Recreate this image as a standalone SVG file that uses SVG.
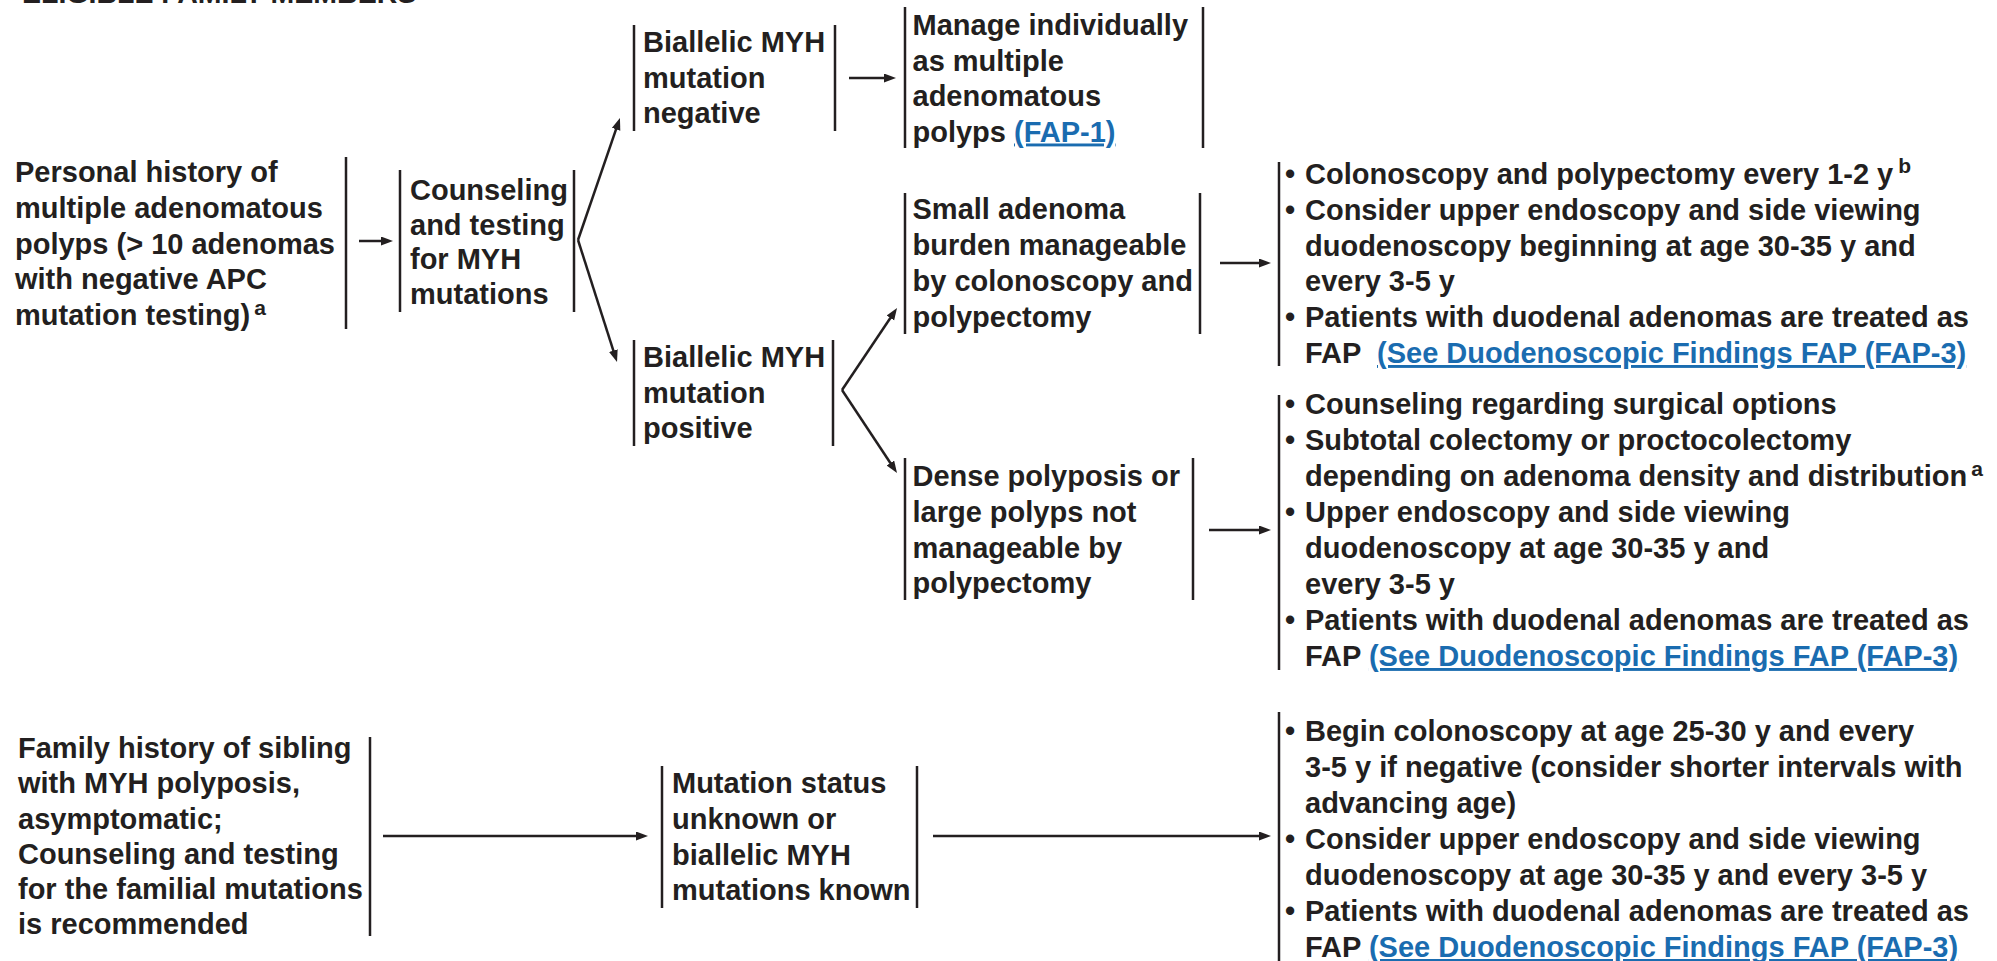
<svg xmlns="http://www.w3.org/2000/svg" width="1997" height="961" viewBox="0 0 1997 961">
<style>
.t{font-family:"Liberation Sans",Arial,Helvetica,sans-serif;font-weight:bold;font-size:29px;fill:#231f20}
.sup{font-size:21px}
.lk{fill:#1a6cb0;text-decoration:underline}
.bar{stroke:#231f20;stroke-width:2.5;fill:none}
.c{stroke:#231f20;stroke-width:2.5;fill:none;marker-end:url(#ah)}
</style>
<defs>
<marker id="ah" markerUnits="userSpaceOnUse" markerWidth="13" markerHeight="10" refX="6" refY="4.5" orient="auto">
<path d="M0,0 L12,4.5 L0,9 z" fill="#231f20"/>
</marker>
</defs>
<rect width="1997" height="961" fill="#ffffff"/>

<g id="title"><text class="t" x="22" y="3" style="font-size:28.5px">ELIGIBLE FAMILY MEMBERS</text></g>

<g id="n-personal">
<text class="t" x="15" y="182">Personal history of</text>
<text class="t" x="15" y="217.8">multiple adenomatous</text>
<text class="t" x="15" y="253.6">polyps (&gt; 10 adenomas</text>
<text class="t" x="15" y="289.4">with negative APC</text>
<text class="t" x="15" y="325.2">mutation testing)<tspan class="sup" dx="4" dy="-10">a</tspan></text>
<line class="bar" x1="346" y1="157" x2="346" y2="329"/>
</g>

<g id="n-counseling">
<line class="bar" x1="400" y1="170" x2="400" y2="312"/>
<text class="t" x="410" y="200">Counseling</text>
<text class="t" x="410" y="234.7">and testing</text>
<text class="t" x="410" y="269.3">for MYH</text>
<text class="t" x="410" y="304">mutations</text>
<line class="bar" x1="574" y1="170" x2="574" y2="312"/>
</g>

<g id="n-neg">
<line class="bar" x1="634" y1="25" x2="634" y2="131"/>
<text class="t" x="643" y="52">Biallelic MYH</text>
<text class="t" x="643" y="87.5">mutation</text>
<text class="t" x="643" y="123">negative</text>
<line class="bar" x1="835" y1="25" x2="835" y2="131"/>
</g>

<g id="n-manage">
<line class="bar" x1="905" y1="7" x2="905" y2="148"/>
<text class="t" x="912.5" y="35">Manage individually</text>
<text class="t" x="912.5" y="70.5">as multiple</text>
<text class="t" x="912.5" y="106">adenomatous</text>
<text class="t" x="912.5" y="141.5">polyps <tspan class="lk">(FAP-1)</tspan></text>
<line class="bar" x1="1203" y1="7" x2="1203" y2="148"/>
</g>

<g id="n-small">
<line class="bar" x1="905" y1="193" x2="905" y2="334"/>
<text class="t" x="912.5" y="219">Small adenoma</text>
<text class="t" x="912.5" y="255">burden manageable</text>
<text class="t" x="912.5" y="291">by colonoscopy and</text>
<text class="t" x="912.5" y="327">polypectomy</text>
<line class="bar" x1="1200" y1="193" x2="1200" y2="334"/>
</g>

<g id="n-list1">
<line class="bar" x1="1279" y1="162" x2="1279" y2="366"/>
<text class="t" x="1285" y="184">•</text>
<text class="t" x="1305" y="184">Colonoscopy and polypectomy every 1-2 y<tspan class="sup" dx="5" dy="-11">b</tspan></text>
<text class="t" x="1285" y="219.8">•</text>
<text class="t" x="1305" y="219.8">Consider upper endoscopy and side viewing</text>
<text class="t" x="1305" y="255.6">duodenoscopy beginning at age 30-35 y and</text>
<text class="t" x="1305" y="291.4">every 3-5 y</text>
<text class="t" x="1285" y="327.2">•</text>
<text class="t" x="1305" y="327.2">Patients with duodenal adenomas are treated as</text>
<text class="t" x="1305" y="363" xml:space="preserve">FAP  <tspan class="lk">(See Duodenoscopic Findings FAP (FAP-3)</tspan></text>
</g>

<g id="n-pos">
<line class="bar" x1="634" y1="340" x2="634" y2="446"/>
<text class="t" x="643" y="367">Biallelic MYH</text>
<text class="t" x="643" y="402.5">mutation</text>
<text class="t" x="643" y="438">positive</text>
<line class="bar" x1="833" y1="340" x2="833" y2="446"/>
</g>

<g id="n-dense">
<line class="bar" x1="905" y1="458" x2="905" y2="600"/>
<text class="t" x="912.5" y="486">Dense polyposis or</text>
<text class="t" x="912.5" y="522">large polyps not</text>
<text class="t" x="912.5" y="557.5">manageable by</text>
<text class="t" x="912.5" y="593">polypectomy</text>
<line class="bar" x1="1193" y1="458" x2="1193" y2="600"/>
</g>

<g id="n-list2">
<line class="bar" x1="1279" y1="395" x2="1279" y2="670"/>
<text class="t" x="1285" y="414">•</text>
<text class="t" x="1305" y="414">Counseling regarding surgical options</text>
<text class="t" x="1285" y="450">•</text>
<text class="t" x="1305" y="450">Subtotal colectomy or proctocolectomy</text>
<text class="t" x="1305" y="486">depending on adenoma density and distribution<tspan class="sup" dx="4" dy="-10">a</tspan></text>
<text class="t" x="1285" y="522">•</text>
<text class="t" x="1305" y="522">Upper endoscopy and side viewing</text>
<text class="t" x="1305" y="558">duodenoscopy at age 30-35 y and</text>
<text class="t" x="1305" y="594">every 3-5 y</text>
<text class="t" x="1285" y="630">•</text>
<text class="t" x="1305" y="630">Patients with duodenal adenomas are treated as</text>
<text class="t" x="1305" y="666">FAP <tspan class="lk">(See Duodenoscopic Findings FAP (FAP-3)</tspan></text>
</g>

<g id="n-family">
<text class="t" x="18" y="758">Family history of sibling</text>
<text class="t" x="18" y="793">with MYH polyposis,</text>
<text class="t" x="18" y="828.5">asymptomatic;</text>
<text class="t" x="18" y="864">Counseling and testing</text>
<text class="t" x="18" y="899">for the familial mutations</text>
<text class="t" x="18" y="934">is recommended</text>
<line class="bar" x1="370" y1="737" x2="370" y2="936"/>
</g>

<g id="n-status">
<line class="bar" x1="662" y1="766" x2="662" y2="908"/>
<text class="t" x="672" y="793">Mutation status</text>
<text class="t" x="672" y="828.5">unknown or</text>
<text class="t" x="672" y="864.5">biallelic MYH</text>
<text class="t" x="672" y="900">mutations known</text>
<line class="bar" x1="917" y1="766" x2="917" y2="908"/>
</g>

<g id="n-list3">
<line class="bar" x1="1279" y1="712" x2="1279" y2="961"/>
<text class="t" x="1285" y="741">•</text>
<text class="t" x="1305" y="741">Begin colonoscopy at age 25-30 y and every</text>
<text class="t" x="1305" y="777">3-5 y if negative (consider shorter intervals with</text>
<text class="t" x="1305" y="813">advancing age)</text>
<text class="t" x="1285" y="849">•</text>
<text class="t" x="1305" y="849">Consider upper endoscopy and side viewing</text>
<text class="t" x="1305" y="885">duodenoscopy at age 30-35 y and every 3-5 y</text>
<text class="t" x="1285" y="921">•</text>
<text class="t" x="1305" y="921">Patients with duodenal adenomas are treated as</text>
<text class="t" x="1305" y="957">FAP <tspan class="lk">(See Duodenoscopic Findings FAP (FAP-3)</tspan></text>
</g>

<g id="connectors">
<line class="c" x1="359" y1="241" x2="387" y2="241"/>
<line class="c" x1="578" y1="240" x2="618" y2="123.7"/>
<line class="c" x1="578" y1="240" x2="615.2" y2="356.3"/>
<line class="c" x1="849" y1="78" x2="890" y2="78"/>
<line class="c" x1="842" y1="390" x2="893.7" y2="313"/>
<line class="c" x1="842" y1="390" x2="893.7" y2="468"/>
<line class="c" x1="1220" y1="263" x2="1265" y2="263"/>
<line class="c" x1="1209" y1="530" x2="1265" y2="530"/>
<line class="c" x1="383" y1="836" x2="642" y2="836"/>
<line class="c" x1="933" y1="836" x2="1265" y2="836"/>
</g>
</svg>
